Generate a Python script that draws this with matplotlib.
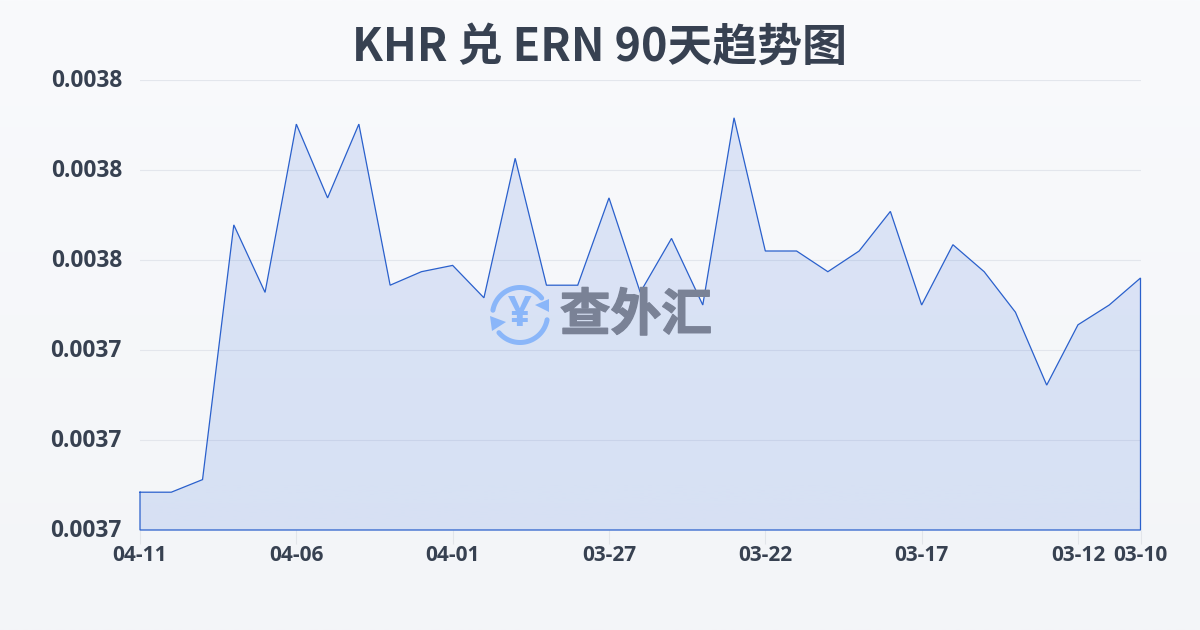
import numpy as np
import matplotlib
matplotlib.use("Agg")
import matplotlib.pyplot as plt
import matplotlib.patheffects as pe
from matplotlib.patches import Polygon
from matplotlib.transforms import ScaledTranslation

plt.rcParams['font.family'] = ['Noto Sans CJK SC', 'DejaVu Sans']

# --- Data ---
title = "KHR 兑 ERN 90天趋势图"
rates = [0.0037292, 0.0037292, 0.0037306, 0.0037589, 0.0037514, 0.0037701, 0.0037619,
         0.0037701, 0.0037522, 0.0037537, 0.0037544, 0.0037508, 0.0037663, 0.0037522,
         0.0037522, 0.0037619, 0.0037514, 0.0037574, 0.0037500, 0.0037708, 0.0037560,
         0.0037560, 0.0037537, 0.0037560, 0.0037604, 0.0037500, 0.0037567, 0.0037537,
         0.0037492, 0.0037411, 0.0037478, 0.0037500, 0.0037530]
date_ticks = [0, 5, 10, 15, 20, 25, 30, 32]
date_labels = ["04-11", "04-06", "04-01", "03-27", "03-22", "03-17", "03-12", "03-10"]
y_ticks = [0.003725, 0.003735, 0.003745, 0.003755, 0.003765, 0.003775]

LINE = "#2a60cc"
TEXT = "#374151"
LOGO = "#8ab6f9"

fig = plt.figure(figsize=(12, 6.3), dpi=100)

# background gradient
bg = fig.add_axes([0, 0, 1, 1], zorder=0)
bg.axis("off")
grad = np.linspace(0, 1, 256).reshape(-1, 1)
top_c = np.array([0xf9, 0xfa, 0xfc]) / 255
bot_c = np.array([0xf3, 0xf5, 0xf8]) / 255
bg.imshow(top_c + (bot_c - top_c) * grad[..., None], aspect="auto", extent=[0, 1, 0, 1])

# --- Main chart ---
ax = fig.add_axes([140 / 1200, 100 / 630, 1000.5 / 1200, 450 / 630], zorder=1)
ax.patch.set_alpha(0)
x = np.arange(len(rates))
ax.set_xlim(0, len(rates) - 1)
ax.set_ylim(y_ticks[0], y_ticks[-1])

poly = ax.fill_between(x, rates, y_ticks[0], color="none", zorder=2)
fill = np.dstack([np.full((256, 1), 0x32 / 255), np.full((256, 1), 0x69 / 255),
                  np.full((256, 1), 0xdc / 255), np.linspace(0.14, 0.15, 256).reshape(-1, 1)])
img = ax.imshow(fill, aspect="auto", extent=[0, len(rates) - 1, y_ticks[0], y_ticks[-1]], zorder=2)
img.set_clip_path(poly.get_paths()[0], transform=ax.transData)

# closed outline, the area is stroked on the left and bottom too
ox = np.concatenate([x, [x[-1], 0, 0]])
oy = np.concatenate([rates, [y_ticks[0], y_ticks[0], rates[0]]])
ax.plot(ox, oy, color=LINE, lw=0.9, zorder=5, clip_on=False, solid_joinstyle="miter")

ax.set_yticks(y_ticks)
ax.set_yticklabels([f"{v:.4f}" for v in y_ticks], fontsize=16.3, fontweight="bold",
                   color=TEXT, family=["Open Sans", "DejaVu Sans"])
ax.set_xticks(date_ticks)
ax.set_xticklabels(date_labels, fontsize=15, fontweight="bold", color=TEXT,
                   family=["Open Sans", "DejaVu Sans"])
ax.tick_params(axis="y", length=0, pad=13)
ax.tick_params(axis="x", length=10, width=0.8, color="#e2e5ea", pad=0.5)
ax.grid(axis="y", color="#e3e6ec", lw=0.8, zorder=1)
ax.set_axisbelow(True)
for s in ax.spines.values():
    s.set_visible(False)
for lab in ax.get_yticklabels():
    lab.set_transform(lab.get_transform() + ScaledTranslation(0, 2 / 100, fig.dpi_scale_trans))

fig.text(600 / 1200, 1 - 48 / 630, title, ha="center", va="center", fontsize=32.3,
         fontweight="bold", color=TEXT)

# --- Watermark, in pixel coordinates ---
wm = fig.add_axes([0, 0, 1, 1], zorder=2)
wm.axis("off")
wm.patch.set_alpha(0)
wm.set_xlim(0, 1200)
wm.set_ylim(630, 0)


def arc(a0, a1, r=27.5, cx=520, cy=315):
    t = np.radians(np.linspace(a0, a1, 50))
    wm.plot(cx + r * np.cos(t), cy + r * np.sin(t), color=LOGO, lw=3.6, solid_capstyle="round")


arc(190, 322)
arc(10, 140)
wm.add_patch(Polygon([(549, 299), (549, 312), (535, 305)], closed=True, color=LOGO, lw=0))
wm.add_patch(Polygon([(490, 316), (506, 322), (492, 331)], closed=True, color=LOGO, lw=0))
wm.text(520, 315, "¥", ha="center", va="center", fontsize=30, fontweight="bold", color=LOGO,
        family=["Open Sans", "DejaVu Sans"])
wm_text = wm.text(636, 316, "查外汇", ha="center", va="center", fontsize=36.5, fontweight="bold", color="#7a8296")
wm_text.set_path_effects([pe.withStroke(linewidth=1.0, foreground="#7a8296")])

fig.savefig("out.png", dpi=100)
